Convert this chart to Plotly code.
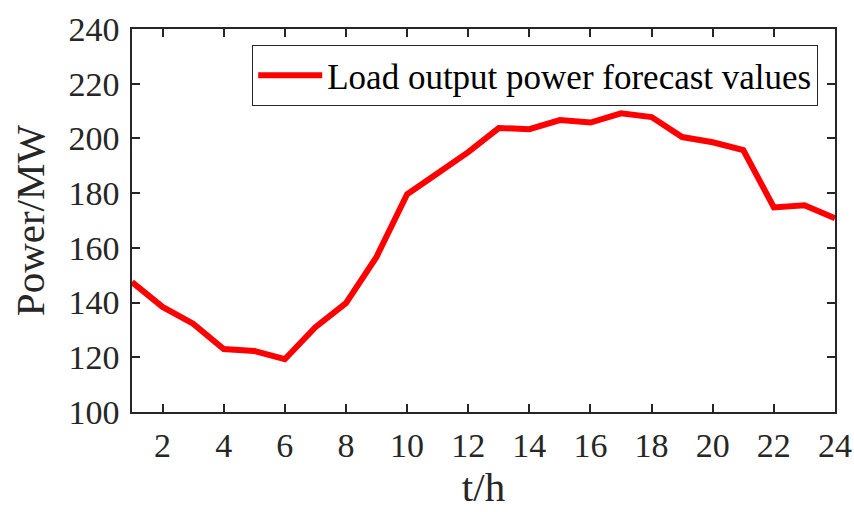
import plotly.graph_objects as go

hours = list(range(1, 25))
load_forecast = [147.5, 138.4, 132.3, 123.0, 122.3, 119.3, 131.0, 139.8, 156.7, 179.6,
                 187.3, 195.0, 203.8, 203.4, 206.7, 205.8, 209.2, 207.8, 200.5, 198.6,
                 195.7, 174.8, 175.6, 170.8]
series_name = "Load output power forecast values"
x_ticks = list(range(2, 25, 2))
y_ticks = list(range(100, 241, 20))

FONT = "Liberation Serif"
INK = "#262626"

fig = go.Figure()
fig.add_trace(go.Scatter(x=hours, y=load_forecast, mode="lines", name=series_name,
                         line=dict(color="#ff0000", width=6)))

axis_common = dict(showline=True, linecolor=INK, linewidth=1.5, mirror="ticks",
                   ticks="inside", ticklen=8, tickwidth=1.5, tickcolor=INK,
                   showgrid=False, zeroline=False, automargin=False,
                   tickfont=dict(family=FONT, size=34, color=INK))

fig.update_layout(
    width=854, height=512,
    margin=dict(l=132, r=19, t=29, b=100),
    plot_bgcolor="white", paper_bgcolor="white",
    xaxis=dict(range=[1, 24], tickvals=x_ticks, ticklabelstandoff=2,
               title=dict(text="t/h", font=dict(family=FONT, size=41, color=INK), standoff=7),
               **axis_common),
    yaxis=dict(range=[100, 240], tickvals=y_ticks, ticklabelstandoff=4,
               title=dict(text="Power/MW", font=dict(family=FONT, size=41, color=INK), standoff=11),
               **axis_common),
    legend=dict(x=0.171, y=0.958, xanchor="left", yanchor="top",
                bordercolor=INK, borderwidth=1, bgcolor="white", itemwidth=64,
                font=dict(family=FONT, size=35, color="black")),
    showlegend=True,
)

fig.write_html("out.html")
